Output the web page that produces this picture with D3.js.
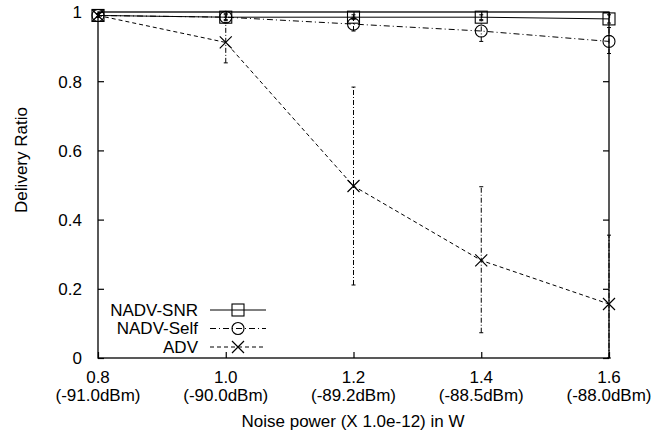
<!DOCTYPE html>
<html>
<head>
<meta charset="utf-8">
<script src="https://cdn.jsdelivr.net/npm/d3@7"></script>
<style>
  html, body { margin: 0; padding: 0; background: #fff; }
  svg { display: block; }
  text { font-family: "Liberation Sans", Arial, Helvetica, sans-serif; font-size: 17px; fill: #000; }
</style>
</head>
<body>
<svg id="chart" width="671" height="434"></svg>
<script>
// Noise power settings (x values) and their dBm labels
const noise = [0.8, 1.0, 1.2, 1.4, 1.6];
const dbmLabels = ["(-91.0dBm)", "(-90.0dBm)", "(-89.2dBm)", "(-88.5dBm)", "(-88.0dBm)"];
const yTicks = [0, 0.2, 0.4, 0.6, 0.8, 1];

// Delivery ratio per protocol, with error bar bounds
const snrMean = [0.99, 0.985, 0.985, 0.985, 0.98];
const snrLow  = [0.985, 0.978, 0.978, 0.978, 0.968];
const snrHigh = [0.995, 0.992, 0.992, 0.992, 0.992];

const selfMean = [0.99, 0.985, 0.965, 0.945, 0.915];
const selfLow  = [0.985, 0.975, 0.945, 0.915, 0.88];
const selfHigh = [0.995, 0.995, 0.985, 0.975, 0.955];

const advMean = [0.99, 0.912, 0.497, 0.282, 0.156];
const advLow  = [0.985, 0.853, 0.211, 0.073, 0.0];
const advHigh = [0.995, 0.97, 0.783, 0.495, 0.355];

const seriesNames = ["NADV-SNR", "NADV-Self", "ADV"];

const svg = d3.select("#chart");
const m = { left: 98, right: 609, top: 12, bottom: 358 };

const x = d3.scaleLinear().domain([0.8, 1.6]).range([m.left, m.right]);
const y = d3.scaleLinear().domain([0, 1]).range([m.bottom, m.top]);

const series = [
  { name: seriesNames[0], mean: snrMean, low: snrLow, high: snrHigh, dash: null, marker: "square" },
  { name: seriesNames[1], mean: selfMean, low: selfLow, high: selfHigh, dash: "6,3,1,3", marker: "circle" },
  { name: seriesNames[2], mean: advMean, low: advLow, high: advHigh, dash: "4,3", marker: "cross" }
];

// Frame
svg.append("rect")
  .attr("x", m.left).attr("y", m.top)
  .attr("width", m.right - m.left).attr("height", m.bottom - m.top)
  .attr("fill", "none").attr("stroke", "#000").attr("stroke-width", 1.3);

// Axes with inward ticks
const xAxis = d3.axisBottom(x).tickValues(noise).tickSize(-6).tickFormat("");
const gx = svg.append("g").attr("transform", `translate(0,${m.bottom})`).call(xAxis);
gx.select(".domain").remove();
gx.selectAll("line").attr("stroke", "#000").attr("stroke-width", 1.2);

const xTop = d3.axisTop(x).tickValues(noise).tickSize(-6).tickFormat("");
const gxt = svg.append("g").attr("transform", `translate(0,${m.top})`).call(xTop);
gxt.select(".domain").remove();
gxt.selectAll("line").attr("stroke", "#000").attr("stroke-width", 1.2);

const yAxis = d3.axisLeft(y).tickValues(yTicks).tickSize(-6).tickFormat(d3.format("~g")).tickPadding(16);
const gy = svg.append("g").attr("transform", `translate(${m.left},0)`).call(yAxis);
gy.select(".domain").remove();
gy.selectAll("line").attr("stroke", "#000").attr("stroke-width", 1.2);
gy.selectAll("text").attr("font-size", 17).attr("fill", "#000").attr("dy", "0.35em")
  .style("font-family", '"Liberation Sans", Arial, sans-serif');

const yRight = d3.axisRight(y).tickValues(yTicks).tickSize(-6).tickFormat("");
const gyr = svg.append("g").attr("transform", `translate(${m.right},0)`).call(yRight);
gyr.select(".domain").remove();
gyr.selectAll("line").attr("stroke", "#000").attr("stroke-width", 1.2);

// Two-line x tick labels
noise.forEach((v, i) => {
  svg.append("text").attr("x", x(v)).attr("y", 383).attr("text-anchor", "middle").text(d3.format(".1f")(v));
  svg.append("text").attr("x", x(v)).attr("y", 401).attr("text-anchor", "middle").text(dbmLabels[i]);
});

// Axis titles
svg.append("text").attr("x", 353).attr("y", 427)
  .attr("text-anchor", "middle").text("Noise power (X 1.0e-12) in W");
svg.append("text").attr("transform", `translate(27,160) rotate(-90)`)
  .attr("text-anchor", "middle").text("Delivery Ratio");

function drawMarker(g, type, cx, cy) {
  const s = 6;
  if (type === "square") {
    g.append("rect").attr("x", cx - s).attr("y", cy - s).attr("width", 2 * s).attr("height", 2 * s)
      .attr("fill", "none").attr("stroke", "#000").attr("stroke-width", 1.1);
  } else if (type === "circle") {
    g.append("circle").attr("cx", cx).attr("cy", cy).attr("r", s)
      .attr("fill", "none").attr("stroke", "#000").attr("stroke-width", 1.1);
  } else {
    g.append("path")
      .attr("d", `M${cx - s},${cy - s}L${cx + s},${cy + s}M${cx - s},${cy + s}L${cx + s},${cy - s}`)
      .attr("fill", "none").attr("stroke", "#000").attr("stroke-width", 1.2);
  }
}

const line = d3.line().x(d => x(d[0])).y(d => y(d[1]));
const plot = svg.append("g");

// Draw in reverse so NADV-SNR ends on top
series.slice().reverse().forEach(s => {
  const g = plot.append("g");
  // Error bars
  noise.forEach((v, i) => {
    const cx = x(v);
    g.append("line").attr("x1", cx).attr("x2", cx).attr("y1", y(s.low[i])).attr("y2", y(s.high[i]))
      .attr("stroke", "#000").attr("stroke-width", 1).attr("stroke-dasharray", "5,2,1,2");
    [s.low[i], s.high[i]].forEach(b => {
      g.append("line").attr("x1", cx - 2).attr("x2", cx + 2).attr("y1", y(b)).attr("y2", y(b))
        .attr("stroke", "#000").attr("stroke-width", 1);
    });
  });
  g.append("path").datum(noise.map((v, i) => [v, s.mean[i]])).attr("d", line)
    .attr("fill", "none").attr("stroke", "#000").attr("stroke-width", 1)
    .attr("stroke-dasharray", s.dash);
  noise.forEach((v, i) => drawMarker(g, s.marker, x(v), y(s.mean[i])));
});

// Legend
const legRows = [310, 328.5, 347];
series.forEach((s, i) => {
  const ly = legRows[i];
  svg.append("text").attr("x", 198).attr("y", ly).attr("dy", "0.35em").attr("text-anchor", "end")
    .attr("font-size", 16).text(s.name);
  svg.append("line").attr("x1", 210).attr("x2", 266).attr("y1", ly).attr("y2", ly)
    .attr("stroke", "#000").attr("stroke-width", 1).attr("stroke-dasharray", s.dash);
  drawMarker(svg, s.marker, 238, ly);
});
</script>
</body>
</html>
